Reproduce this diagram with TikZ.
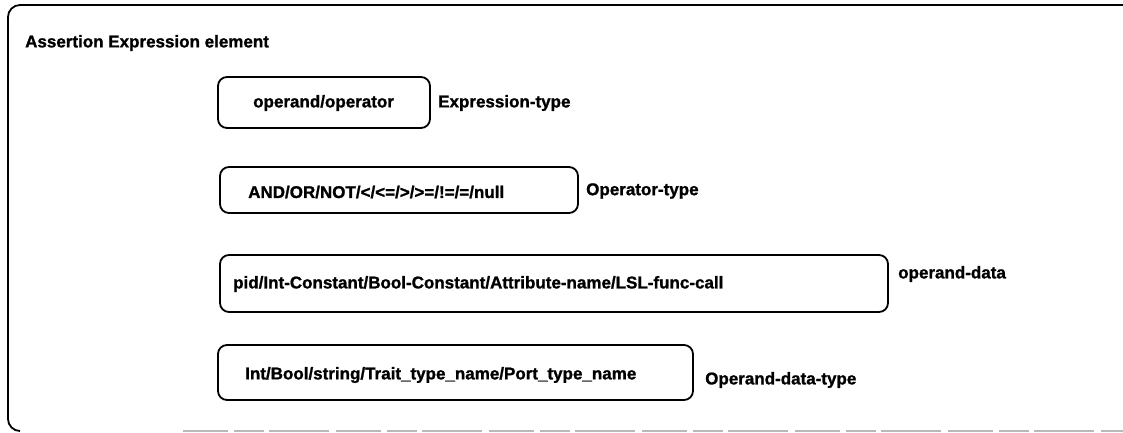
\documentclass[tikz,border=0pt]{standalone}
\usepackage{fontspec}
\setmainfont{Liberation Sans}[BoldFeatures={FakeBold=1.2}]
\begin{document}
\begin{tikzpicture}[x=1pt,y=-1pt,
  every node/.style={font=\fontsize{17}{20}\selectfont\bfseries, text=black},
  fieldbox/.style={draw=black, line width=1.8pt, rounded corners=9pt, inner sep=0pt},
  txt/.style={anchor=west, inner sep=0pt},
  outer/.style={draw=black, line width=1.8pt}]
\useasboundingbox (0,0) rectangle (1123,433);
% outer frame
\draw[outer, rounded corners=12pt] (1123,5) -- (8,5) -- (8,431) -- (20,431);
\draw[gray!55, line width=1.6pt, dash pattern=on 45pt off 6pt on 30pt off 5pt on 60pt off 7pt] (183,431) -- (1123,431);
% title
\node[txt] (title) at (25,43) {Assertion Expression element};
% boxes
\node[fieldbox, minimum width=212pt, minimum height=51pt] (b1) at (324,102.5) {};
\node[fieldbox, minimum width=358pt, minimum height=46pt] (b2) at (399,190) {};
\node[fieldbox, minimum width=668pt, minimum height=57pt] (b3) at (554,283.5) {};
\node[fieldbox, minimum width=475pt, minimum height=55pt] (b4) at (455.5,372.5) {};
% texts in boxes
\node[txt] (t1) at (253,103) {operand/operator};
\node[txt] (t2) at (248,192) {AND/OR/NOT/</<=/>/>=/!=/=/null};
\node[txt] (t3) at (233,284) {pid/Int-Constant/Bool-Constant/Attribute-name/LSL-func-call};
\node[txt] (t4) at (245,375) {Int/Bool/string/Trait\_type\_name/Port\_type\_name};
% labels
\node[txt] (l1) at (438,103) {Expression-type};
\node[txt] (l2) at (586,191) {Operator-type};
\node[txt] (l3) at (898,274) {operand-data};
\node[txt] (l4) at (705,380) {Operand-data-type};
\end{tikzpicture}
\end{document}
